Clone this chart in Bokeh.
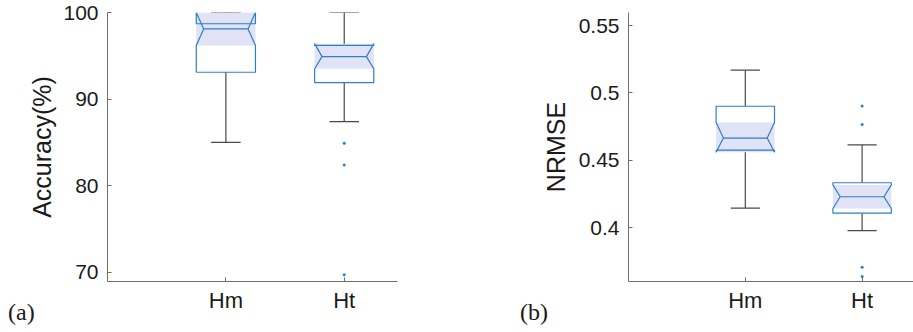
from bokeh.plotting import figure
from bokeh.layouts import row
from bokeh.models import Range1d, FixedTicker, Div
from bokeh.embed import file_html
from bokeh.resources import INLINE

# ---------------- data ----------------
categories = ["Hm", "Ht"]

# (a) Accuracy (%)
acc_q1 = [93.1, 91.9]
acc_median = [98.1, 94.9]
acc_q3 = [98.7, 96.2]
acc_notch_lo = [96.2, 93.5]
acc_notch_hi = [100.0, 96.4]
acc_whisker_lo = [85.0, 87.4]
acc_whisker_hi = [100.0, 100.0]
acc_outlier_cat = ["Ht", "Ht", "Ht"]
acc_outlier_val = [84.9, 82.4, 69.7]
acc_ticks = [70, 80, 90, 100]
acc_tick_labels = ["70", "80", "90", "100"]

# (b) NRMSE
nrmse_q1 = [0.4575, 0.4107]
nrmse_median = [0.4665, 0.4229]
nrmse_q3 = [0.4901, 0.4333]
nrmse_notch_lo = [0.4560, 0.4142]
nrmse_notch_hi = [0.4780, 0.4317]
nrmse_whisker_lo = [0.4145, 0.3978]
nrmse_whisker_hi = [0.5169, 0.4615]
nrmse_outlier_cat = ["Ht", "Ht", "Ht", "Ht"]
nrmse_outlier_val = [0.4903, 0.4766, 0.3705, 0.3637]
nrmse_ticks = [0.4, 0.45, 0.5, 0.55]
nrmse_tick_labels = ["0.4", "0.45", "0.5", "0.55"]

panel_tags = ["(a)", "(b)"]

# ---------------- style ----------------
BOX_COL = "#2f7fc1"
FILL_COL = "#dfe3f5"
WHISK_COL = "#4a4a4a"
AXIS_COL = "#6e6e6e"
TEXT_COL = "#1a1a1a"
FONT = "Liberation Sans"
HALF_W = 0.25
NOTCH_W = 0.75 * HALF_W
CAP_W = 0.125


def box_panel(width, height, border_left, border_right, x_end, y_range,
              q1, med, q3, nlo, nhi, wlo, whi, out_cat, out_val,
              ticks, tick_labels, ylabel, label_standoff):
    p = figure(width=width, height=height, output_backend="svg",
               toolbar_location=None, x_range=Range1d(0, x_end),
               y_range=Range1d(*y_range), min_border_left=border_left,
               min_border_right=border_right, min_border_top=12,
               min_border_bottom=49)
    p.outline_line_color = None
    p.grid.visible = False
    p.background_fill_color = "white"
    p.border_fill_color = "white"

    xpos = [categories.index(c) + 1 for c in categories]

    # whiskers
    p.segment(x0=xpos, y0=q3, x1=xpos, y1=whi, line_color=WHISK_COL, line_width=1.2)
    p.segment(x0=xpos, y0=q1, x1=xpos, y1=wlo, line_color=WHISK_COL, line_width=1.2)
    p.segment(x0=[x - CAP_W for x in xpos], y0=whi, x1=[x + CAP_W for x in xpos],
              y1=whi, line_color=WHISK_COL, line_width=1.2)
    p.segment(x0=[x - CAP_W for x in xpos], y0=wlo, x1=[x + CAP_W for x in xpos],
              y1=wlo, line_color=WHISK_COL, line_width=1.2)

    # notch confidence band
    p.quad(left=[x - HALF_W for x in xpos], right=[x + HALF_W for x in xpos],
           bottom=nlo, top=nhi, fill_color=FILL_COL, line_color=None)

    # notched box outline
    xs, ys = [], []
    for x, a, lo, m, hi, b in zip(xpos, q1, nlo, med, nhi, q3):
        xs.append([x - HALF_W, x - HALF_W, x - NOTCH_W, x - HALF_W, x - HALF_W,
                   x + HALF_W, x + HALF_W, x + NOTCH_W, x + HALF_W, x + HALF_W,
                   x - HALF_W])
        ys.append([a, lo, m, hi, b, b, hi, m, lo, a, a])
    p.multi_line(xs=xs, ys=ys, line_color=BOX_COL, line_width=1.2)
    p.segment(x0=[x - NOTCH_W for x in xpos], y0=med, x1=[x + NOTCH_W for x in xpos],
              y1=med, line_color=BOX_COL, line_width=1.2)

    # outliers
    ox = [categories.index(c) + 1 for c in out_cat]
    p.scatter(x=ox, y=out_val, size=3, marker="circle", fill_color=BOX_COL,
              line_color=None)

    # axes
    for ax in (p.xaxis[0], p.yaxis[0]):
        ax.axis_line_color = AXIS_COL
        ax.major_tick_line_color = AXIS_COL
        ax.major_tick_in = 4
        ax.major_tick_out = 0
        ax.minor_tick_line_color = None
        ax.major_label_text_color = TEXT_COL
        ax.major_label_text_font = FONT
    p.xaxis.ticker = FixedTicker(ticks=xpos)
    p.xaxis.major_label_overrides = {x: c for x, c in zip(xpos, categories)}
    p.xaxis.major_label_text_font_size = "22px"
    p.xaxis.major_label_standoff = 6
    p.yaxis.ticker = FixedTicker(ticks=ticks)
    p.yaxis.major_label_overrides = {t: l for t, l in zip(ticks, tick_labels)}
    p.yaxis.major_label_text_font_size = "21px"
    p.yaxis.major_label_standoff = 9
    p.yaxis.axis_label = ylabel
    p.yaxis.axis_label_text_font = FONT
    p.yaxis.axis_label_text_font_style = "normal"
    p.yaxis.axis_label_text_font_size = "25px"
    p.yaxis.axis_label_text_color = TEXT_COL
    p.yaxis.axis_label_standoff = label_standoff
    return p


def tag_div(text, left, top):
    css = (":host { position: absolute !important; left: %dpx !important; "
           "top: %dpx !important; width: auto !important; height: auto !important; "
           "z-index: 10; }" % (left, top))
    html = ('<span style="font-family: \'Liberation Serif\', \'DejaVu Serif\', serif; '
            'font-size: 24px; line-height: 1; color: %s;">%s</span>' % (TEXT_COL, text))
    return Div(text=html, stylesheets=[css])


pa = box_panel(500, 330, 107, 103, 2.45, (68.93, 100.0),
               acc_q1, acc_median, acc_q3, acc_notch_lo, acc_notch_hi,
               acc_whisker_lo, acc_whisker_hi, acc_outlier_cat, acc_outlier_val,
               acc_ticks, acc_tick_labels, "Accuracy(%)", 4)
pb = box_panel(413, 330, 128, 0, 2.44, (0.36, 0.5597),
               nrmse_q1, nrmse_median, nrmse_q3, nrmse_notch_lo, nrmse_notch_hi,
               nrmse_whisker_lo, nrmse_whisker_hi, nrmse_outlier_cat,
               nrmse_outlier_val, nrmse_ticks, nrmse_tick_labels, "NRMSE", 6)

layout = row(pa, pb, tag_div(panel_tags[0], 3, 295), tag_div(panel_tags[1], 515, 295))
open("out.html", "w").write(file_html(layout, INLINE))
